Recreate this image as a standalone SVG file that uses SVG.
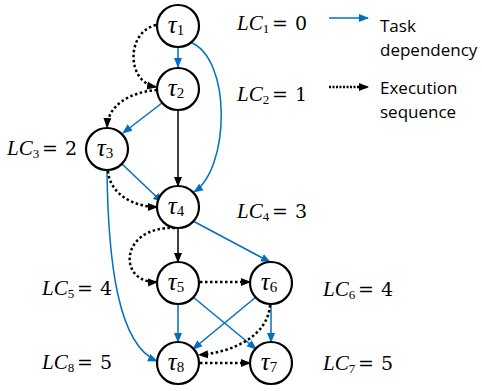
<svg xmlns="http://www.w3.org/2000/svg" width="482" height="391" viewBox="0 0 482 391">
<style>
.n{fill:#fff;stroke:#000;stroke-width:2.2}
.t{font-family:"Liberation Serif","DejaVu Serif",serif;font-style:italic;font-size:25px;text-anchor:middle}
.sub{font-style:normal;font-size:15px}
.lc{font-family:"Liberation Serif","DejaVu Serif",serif;font-size:21px}
.it{font-style:italic}
.ls{font-size:13px}
.eq{font-family:"DejaVu Serif","Liberation Serif",serif;font-size:19px}
.leg{font-family:"Open Sans","Noto Sans",sans-serif;font-size:17px}
.b{fill:none;stroke:#0070C0;stroke-width:1.5}
.k{fill:none;stroke:#000;stroke-width:1.5}
.d{fill:none;stroke:#000;stroke-width:2.5;stroke-dasharray:2.5 2.5}
</style>
<defs>
<marker id="ab" markerWidth="10" markerHeight="10" refX="9" refY="5" orient="auto" markerUnits="userSpaceOnUse" viewBox="0 0 10 10"><path d="M0,1 L10,5 L0,9 z" fill="#0070C0"/></marker>
<marker id="ak" markerWidth="10" markerHeight="10" refX="9" refY="5" orient="auto" markerUnits="userSpaceOnUse" viewBox="0 0 10 10"><path d="M0,1 L10,5 L0,9 z" fill="#000"/></marker>
</defs>
<g id="connectors">
<path class="b" d="M178,47 L178,67" marker-end="url(#ab)"/>
<path class="b" d="M190,42 C232,58 230,168 194,192" marker-end="url(#ab)"/>
<path class="b" d="M162,103 L123,133" marker-end="url(#ab)"/>
<path class="b" d="M122,164 L162,202" marker-end="url(#ab)"/>
<path class="b" d="M107,170 C108,262 118,345 157,361" marker-end="url(#ab)"/>
<path class="b" d="M193,221 L270,262" marker-end="url(#ab)"/>
<path class="b" d="M178,304 L178,342" marker-end="url(#ab)"/>
<path class="b" d="M193,297 L256,349" marker-end="url(#ab)"/>
<path class="b" d="M256,297 L193,349" marker-end="url(#ab)"/>
<path class="b" d="M271,304 L271,342" marker-end="url(#ab)"/>
<path class="k" d="M178,110 L178,186" marker-end="url(#ak)"/>
<path class="k" d="M178,228 L178,262" marker-end="url(#ak)"/>
<path class="d" d="M156,25 C126,32 126,82 156,87" marker-end="url(#ak)"/>
<path class="d" d="M157,90 C130,92 108,105 107,127" marker-end="url(#ak)"/>
<path class="d" d="M108,171 C110,195 135,207 157,207" marker-end="url(#ak)"/>
<path class="d" d="M175,228 C118,226 118,284 157,282" marker-end="url(#ak)"/>
<path class="d" d="M200,282 L250,282" marker-end="url(#ak)"/>
<path class="d" d="M270,305 C268,335 235,352 199,355" marker-end="url(#ak)"/>
<path class="d" d="M200,363 L250,363" marker-end="url(#ak)"/>
</g>
<g id="t1"><circle class="n" cx="178" cy="26" r="21"/><text class="t" x="176" y="33">τ<tspan class="sub" dy="2">1</tspan></text></g>
<g id="t2"><circle class="n" cx="178" cy="89" r="21"/><text class="t" x="176" y="96">τ<tspan class="sub" dy="2">2</tspan></text></g>
<g id="t3"><circle class="n" cx="107" cy="149" r="21"/><text class="t" x="105" y="156">τ<tspan class="sub" dy="2">3</tspan></text></g>
<g id="t4"><circle class="n" cx="178" cy="207" r="21"/><text class="t" x="176" y="214">τ<tspan class="sub" dy="2">4</tspan></text></g>
<g id="t5"><circle class="n" cx="178" cy="283" r="21"/><text class="t" x="176" y="290">τ<tspan class="sub" dy="2">5</tspan></text></g>
<g id="t6"><circle class="n" cx="271" cy="283" r="21"/><text class="t" x="269" y="290">τ<tspan class="sub" dy="2">6</tspan></text></g>
<g id="t7"><circle class="n" cx="271" cy="363" r="21"/><text class="t" x="269" y="370">τ<tspan class="sub" dy="2">7</tspan></text></g>
<g id="t8"><circle class="n" cx="178" cy="363" r="21"/><text class="t" x="176" y="370">τ<tspan class="sub" dy="2">8</tspan></text></g>
<g id="labels">
<text class="lc" x="237" y="30"><tspan class="it">LC</tspan><tspan class="ls" dy="3">1</tspan><tspan class="eq" x="272" dy="-3">=</tspan><tspan class="eq" x="295">0</tspan></text>
<text class="lc" x="237" y="101"><tspan class="it">LC</tspan><tspan class="ls" dy="3">2</tspan><tspan class="eq" x="272" dy="-3">=</tspan><tspan class="eq" x="295">1</tspan></text>
<text class="lc" x="7" y="155"><tspan class="it">LC</tspan><tspan class="ls" dy="3">3</tspan><tspan class="eq" x="42" dy="-3">=</tspan><tspan class="eq" x="65">2</tspan></text>
<text class="lc" x="237" y="218"><tspan class="it">LC</tspan><tspan class="ls" dy="3">4</tspan><tspan class="eq" x="272" dy="-3">=</tspan><tspan class="eq" x="295">3</tspan></text>
<text class="lc" x="42" y="295"><tspan class="it">LC</tspan><tspan class="ls" dy="3">5</tspan><tspan class="eq" x="77" dy="-3">=</tspan><tspan class="eq" x="100">4</tspan></text>
<text class="lc" x="323" y="296"><tspan class="it">LC</tspan><tspan class="ls" dy="3">6</tspan><tspan class="eq" x="358" dy="-3">=</tspan><tspan class="eq" x="381">4</tspan></text>
<text class="lc" x="42" y="369"><tspan class="it">LC</tspan><tspan class="ls" dy="3">8</tspan><tspan class="eq" x="77" dy="-3">=</tspan><tspan class="eq" x="100">5</tspan></text>
<text class="lc" x="323" y="370"><tspan class="it">LC</tspan><tspan class="ls" dy="3">7</tspan><tspan class="eq" x="358" dy="-3">=</tspan><tspan class="eq" x="381">5</tspan></text>
</g>
<g id="legend">
<path class="b" d="M329,18 L368,18" marker-end="url(#ab)"/>
<path class="d" stroke-width="2" d="M329,87 L368,87" marker-end="url(#ak)" style="stroke-dasharray:2 1.5"/>
<text class="leg" x="380" y="32">Task</text>
<text class="leg" x="380" y="56">dependency</text>
<text class="leg" x="380" y="94">Execution</text>
<text class="leg" x="380" y="118">sequence</text>
</g>
</svg>
